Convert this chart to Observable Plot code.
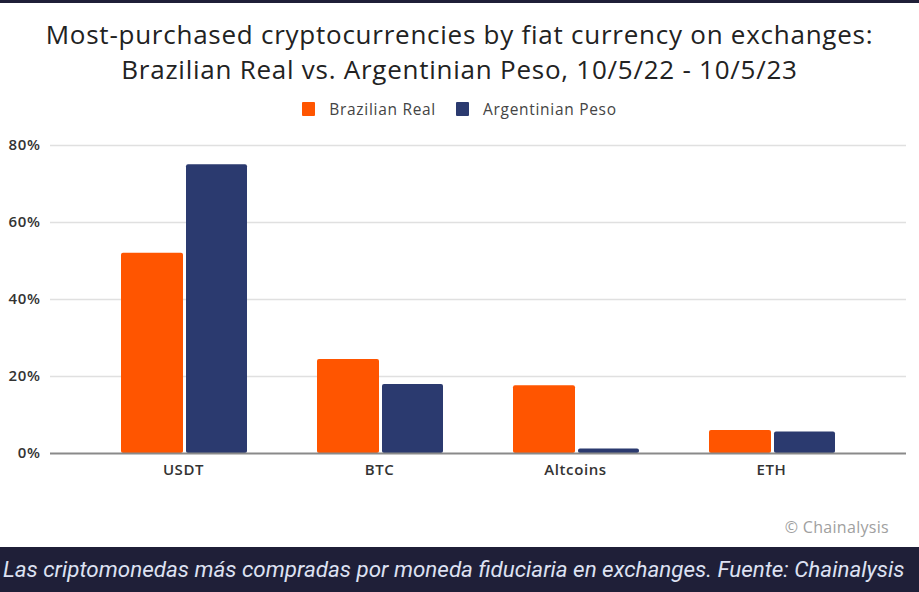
<!DOCTYPE html>
<html>
<head>
<meta charset="utf-8">
<script src="https://cdn.jsdelivr.net/npm/d3@7"></script>
<script src="https://cdn.jsdelivr.net/npm/@observablehq/plot@0.6"></script>
<style>
  html, body { margin: 0; padding: 0; background: #fff; }
  #wrap { position: relative; width: 919px; height: 592px; overflow: hidden; background: #fff; font-family: "Open Sans", Lato, sans-serif; }
  #topband { position: absolute; left: 0; top: 0; width: 919px; height: 3px; background: #1f1f38; }
  #title { position: absolute; left: 0; top: 17px; width: 919px; text-align: center; font-size: 26px; letter-spacing: 0.75px; line-height: 35px; color: #222; }
  #legend { position: absolute; left: 0; top: 98px; width: 919px; display: flex; justify-content: center; align-items: center; font-size: 15.5px; letter-spacing: 0.7px; color: #444; }
  .sw { display: inline-block; width: 13px; height: 14px; margin-right: 14px; border-radius: 1px; }
  .item { display: flex; align-items: center; margin: 0 10px; }
  #chart { position: absolute; left: 0; top: 130px; }
  #credit { position: absolute; right: 30px; top: 516px; font-size: 16px; letter-spacing: 0.3px; color: #a0a0a0; }
  #bottom { position: absolute; left: 0; top: 547px; width: 919px; height: 45px; background: #1f1f38; }
  #caption { position: absolute; left: 3px; top: 9px; font-family: Roboto, sans-serif; font-style: italic; font-size: 22.4px; color: #dde1f2; white-space: nowrap; }
  #chart svg text { letter-spacing: 0.6px; }
</style>
</head>
<body>
<div id="wrap">
  <div id="topband"></div>
  <div id="title">Most-purchased cryptocurrencies by fiat currency on exchanges:<br>Brazilian Real vs. Argentinian Peso, 10/5/22 - 10/5/23</div>
  <div id="legend"></div>
  <div id="chart"></div>
  <div id="credit">© Chainalysis</div>
  <div id="bottom"><div id="caption">Las criptomonedas más compradas por moneda fiduciaria en exchanges. Fuente: Chainalysis</div></div>
</div>
<script>
const categories = ["USDT", "BTC", "Altcoins", "ETH"];
const seriesNames = ["Brazilian Real", "Argentinian Peso"];
const seriesColors = ["#ff5500", "#2b3a6f"];
const brazilianReal = [52, 24.4, 17.6, 6.0];
const argentinianPeso = [75, 17.9, 1.2, 5.6];
const yTicks = [0, 20, 40, 60, 80];

const data = [];
categories.forEach((c, i) => {
  data.push({category: c, series: seriesNames[0], value: brazilianReal[i]});
  data.push({category: c, series: seriesNames[1], value: argentinianPeso[i]});
});

// legend
const legend = document.getElementById("legend");
seriesNames.forEach((s, i) => {
  const it = document.createElement("div");
  it.className = "item";
  const sw = document.createElement("span");
  sw.className = "sw";
  sw.style.background = seriesColors[i];
  it.appendChild(sw);
  it.appendChild(document.createTextNode(s));
  legend.appendChild(it);
});

const plot = Plot.plot({
  width: 919,
  height: 353,
  marginLeft: 50,
  marginRight: 13,
  marginTop: 15,
  marginBottom: 30,
  style: {fontFamily: "'Open Sans', sans-serif", fontSize: "15px", color: "#333", background: "transparent"},
  x: {domain: categories, padding: 0, round: false, insetLeft: 35, insetRight: 37, label: null},
  y: {domain: [0, 80], label: null},
  color: {domain: seriesNames, range: seriesColors},
  marks: [
    Plot.ruleY(yTicks.filter(d => d > 0), {stroke: "#e0e0e0", strokeWidth: 1.5}),
    Plot.barY(data.filter(d => d.series === seriesNames[0]), {x: "category", y: "value", fill: "series", insetLeft: 36, insetRight: 98, rx: 2}),
    Plot.barY(data.filter(d => d.series === seriesNames[1]), {x: "category", y: "value", fill: "series", insetLeft: 101, insetRight: 34, rx: 2}),
    Plot.ruleY([0], {stroke: "#8a8a8a", strokeWidth: 2}),
    Plot.axisY({ticks: yTicks, tickFormat: d => d + "%", tickSize: 0, tickPadding: 10, fontSize: 15, fontWeight: 600, label: null}),
    Plot.axisX({tickSize: 0, tickPadding: 11, fontSize: 15, fontWeight: 600, label: null})
  ]
});
document.getElementById("chart").appendChild(plot);
</script>
</body>
</html>
